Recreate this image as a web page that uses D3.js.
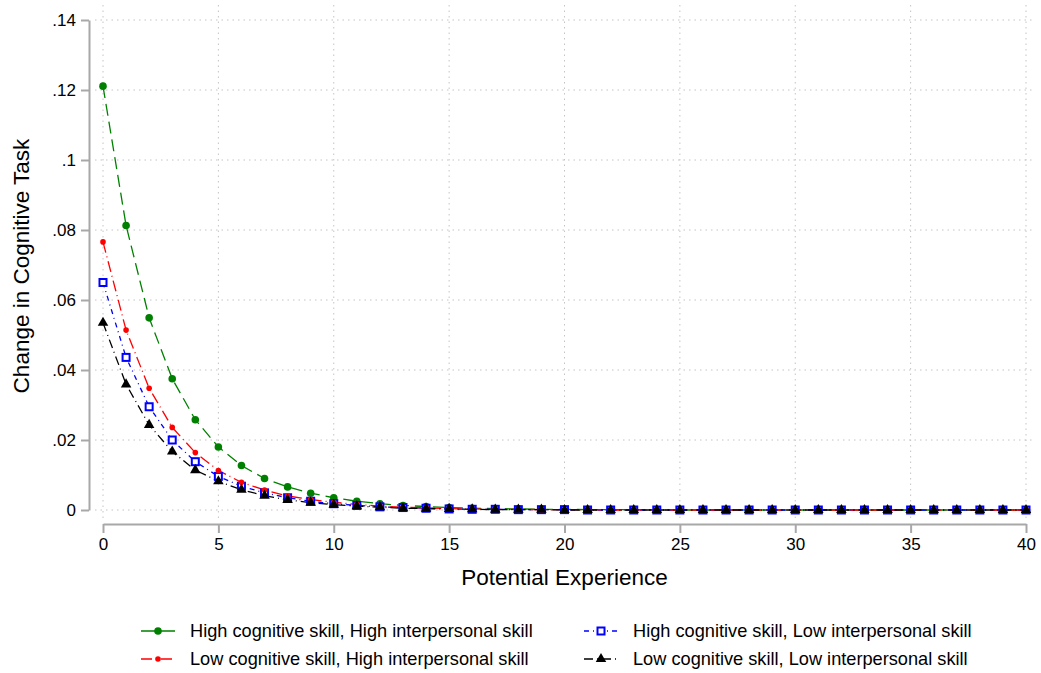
<!DOCTYPE html>
<html>
<head>
<meta charset="utf-8">
<script src="https://cdn.jsdelivr.net/npm/d3@7"></script>
<style>
  body { margin: 0; background: #fff; }
  svg { display: block; font-family: "Liberation Sans", Arial, Helvetica, sans-serif; }
</style>
</head>
<body>
<div id="main"></div>
<script>
// potential experience, 0..40
const years = d3.range(0, 41)

const highCogHighInt = [0.1211, 0.0813, 0.0549, 0.0375, 0.0258, 0.0180, 0.0127, 0.0090, 0.0066, 0.0048,
  0.0035, 0.0025, 0.0018, 0.0013, 0.0010, 0.0007, 0.0005, 0.0004, 0.0003, 0.0002,
  0.0002, 0.0001, 0.0001, 0.0001, 0.0001, 0.0000, 0.0000, 0.0000, 0.0000, 0.0000,
  0.0000, 0.0000, 0.0000, 0.0000, 0.0000, 0.0000, 0.0000, 0.0000, 0.0000, 0.0000, 0.0000]
const highCogLowInt = [0.0650, 0.0436, 0.0295, 0.0200, 0.0138, 0.0096, 0.0068, 0.0049, 0.0035, 0.0025,
  0.0018, 0.0013, 0.0009, 0.0007, 0.0005, 0.0003, 0.0002, 0.0002, 0.0001, 0.0001,
  0.0001, 0.0000, 0.0000, 0.0000, 0.0000, 0.0000, 0.0000, 0.0000, 0.0000, 0.0000,
  0.0000, 0.0000, 0.0000, 0.0000, 0.0000, 0.0000, 0.0000, 0.0000, 0.0000, 0.0000, 0.0000]
const lowCogHighInt = [0.0766, 0.0514, 0.0348, 0.0236, 0.0164, 0.0113, 0.0079, 0.0057, 0.0040, 0.0030,
  0.0022, 0.0016, 0.0011, 0.0008, 0.0006, 0.0004, 0.0003, 0.0002, 0.0002, 0.0001,
  0.0001, 0.0001, 0.0000, 0.0000, 0.0000, 0.0000, 0.0000, 0.0000, 0.0000, 0.0000,
  0.0000, 0.0000, 0.0000, 0.0000, 0.0000, 0.0000, 0.0000, 0.0000, 0.0000, 0.0000, 0.0000]
const lowCogLowInt = [0.0535, 0.0359, 0.0243, 0.0167, 0.0114, 0.0082, 0.0058, 0.0041, 0.0029, 0.0021,
  0.0015, 0.0011, 0.0008, 0.0005, 0.0004, 0.0003, 0.0002, 0.0001, 0.0001, 0.0001,
  0.0000, 0.0000, 0.0000, 0.0000, 0.0000, 0.0000, 0.0000, 0.0000, 0.0000, 0.0000,
  0.0000, 0.0000, 0.0000, 0.0000, 0.0000, 0.0000, 0.0000, 0.0000, 0.0000, 0.0000, 0.0000]

const xTicks = [0, 5, 10, 15, 20, 25, 30, 35, 40]
const yTicks = [0, 0.02, 0.04, 0.06, 0.08, 0.1, 0.12, 0.14]
const yTickLabels = ["0", ".02", ".04", ".06", ".08", ".1", ".12", ".14"]

const seriesNames = [
  "High cognitive skill, High interpersonal skill",
  "High cognitive skill, Low interpersonal skill",
  "Low cognitive skill, High interpersonal skill",
  "Low cognitive skill, Low interpersonal skill"
]

const width = 1041
const height = 673

const series = [
  {name: seriesNames[0], values: highCogHighInt, color: "#008000", dash: "12,6", marker: "circle", col: 0, row: 0},
  {name: seriesNames[1], values: highCogLowInt, color: "#0000ff", dash: "5,4,1,4", marker: "square", col: 1, row: 0},
  {name: seriesNames[2], values: lowCogHighInt, color: "#ff0000", dash: "11,4,1,4", marker: "smallcircle", col: 0, row: 1},
  {name: seriesNames[3], values: lowCogLowInt, color: "#000000", dash: "9,4,1,4", marker: "triangle", col: 1, row: 1}
]

const svg = d3.select("#main").append("svg")
  .attr("width", width)
  .attr("height", height)

svg.append("rect").attr("width", width).attr("height", height).attr("fill", "#fff")

const xScale = d3.scaleLinear().domain([0, 40]).range([103, 1026])
const yScale = d3.scaleLinear().domain([0, 0.14]).range([510, 20])

// grid
const grid = svg.append("g")
  .attr("stroke", "#c4c4c4")
  .attr("stroke-width", 1)
  .attr("stroke-dasharray", "1.5,4")
grid.selectAll(".vg").data(xTicks).join("line")
  .attr("x1", d => xScale(d)).attr("x2", d => xScale(d))
  .attr("y1", 5).attr("y2", 518)
grid.selectAll(".hg").data(yTicks).join("line")
  .attr("y1", d => yScale(d)).attr("y2", d => yScale(d))
  .attr("x1", 95).attr("x2", 1035)

// axes
const xAxis = d3.axisBottom(xScale)
  .tickValues(xTicks)
  .tickSize(9)
  .tickPadding(5)
  .tickSizeOuter(0)
const yAxis = d3.axisLeft(yScale)
  .tickValues(yTicks)
  .tickFormat((d, i) => yTickLabels[i])
  .tickSize(8)
  .tickPadding(5)
  .tickSizeOuter(0)

const gx = svg.append("g").attr("transform", "translate(0,524)").call(xAxis)
const gy = svg.append("g").attr("transform", "translate(89,0)").call(yAxis)
for (const g of [gx, gy]) {
  g.select(".domain").attr("stroke", "#a8a8a8").attr("stroke-width", 2)
  g.selectAll(".tick line").attr("stroke", "#a8a8a8").attr("stroke-width", 2)
  g.selectAll(".tick text").attr("fill", "#000").attr("font-size", 17)
    .attr("font-family", "'Liberation Sans', Arial, sans-serif")
}

svg.append("text")
  .attr("x", (xScale(0) + xScale(40)) / 2).attr("y", 585)
  .attr("text-anchor", "middle").attr("font-size", 22.5)
  .text("Potential Experience")

svg.append("text")
  .attr("transform", `translate(29,266) rotate(-90)`)
  .attr("text-anchor", "middle").attr("font-size", 22.5)
  .text("Change in Cognitive Task")

function drawMarker(g, type, color) {
  if (type === "circle") {
    g.append("circle").attr("r", 3.8).attr("fill", color)
  } else if (type === "smallcircle") {
    g.append("circle").attr("r", 2.8).attr("fill", color)
  } else if (type === "square") {
    g.append("rect").attr("x", -3.5).attr("y", -3.5).attr("width", 7).attr("height", 7)
      .attr("fill", "#fff").attr("stroke", color).attr("stroke-width", 2)
  } else if (type === "triangle") {
    g.append("path").attr("d", d3.symbol().type(d3.symbolTriangle).size(48)()).attr("fill", color)
  }
}

const line = d3.line()
  .x((d, i) => xScale(years[i]))
  .y(d => yScale(d))

const plot = svg.append("g")
series.forEach(s => {
  plot.append("path")
    .datum(s.values)
    .attr("fill", "none")
    .attr("stroke", s.color)
    .attr("stroke-width", 1.3)
    .attr("stroke-dasharray", s.dash)
    .attr("d", line)
})
series.forEach(s => {
  s.values.forEach((v, i) => {
    const m = plot.append("g").attr("transform", `translate(${xScale(years[i])},${yScale(v)})`)
    drawMarker(m, s.marker, s.color)
  })
})

// legend
const legendCols = [141, 584]
const legendRows = [631, 659]
series.forEach(s => {
  const x0 = legendCols[s.col]
  const y0 = legendRows[s.row]
  const g = svg.append("g").attr("transform", `translate(${x0},${y0})`)
  g.append("line").attr("x1", 0).attr("x2", 34).attr("y1", 0).attr("y2", 0)
    .attr("stroke", s.color).attr("stroke-width", 1.3)
    .attr("stroke-dasharray", s.marker === "circle" ? "14,6" : s.dash)
  const m = g.append("g").attr("transform", "translate(17,0)")
  drawMarker(m, s.marker, s.color)
  g.append("text").attr("x", 49).attr("y", 0).attr("dy", "0.35em")
    .attr("font-size", 18.2).text(s.name)
})
</script>
</body>
</html>
